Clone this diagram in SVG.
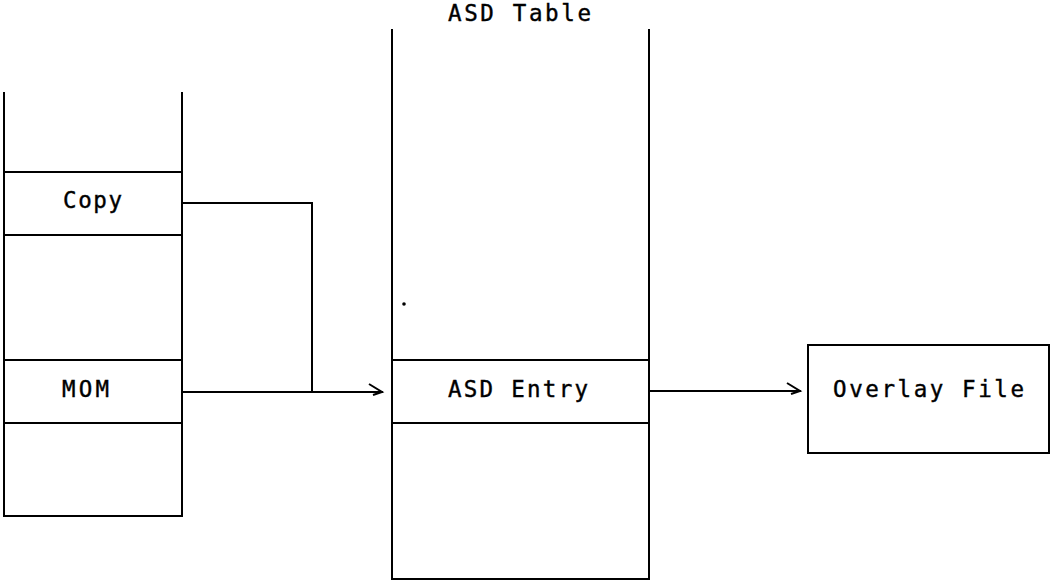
<svg xmlns="http://www.w3.org/2000/svg" width="1052" height="581" viewBox="0 0 1052 581">
<style>
.ln{stroke:#000;stroke-width:2;fill:none;stroke-linecap:square}
.t{font-family:"DejaVu Sans Mono","Liberation Mono",monospace;font-size:22.5px;fill:#000;stroke:#000;stroke-width:0.4}
</style>
<defs>
<marker id="ah" markerUnits="userSpaceOnUse" markerWidth="20" markerHeight="20" refX="14" refY="10" orient="auto" overflow="visible">
<path d="M1,2 L14,10 L5,13" fill="none" stroke="#000" stroke-width="2"/>
</marker>
</defs>
<rect width="1052" height="581" fill="#fff"/>
<g id="stack">
<path class="ln" d="M4,93 V516 H182 V93"/>
<line class="ln" x1="4" y1="172" x2="182" y2="172"/>
<line class="ln" x1="4" y1="235" x2="182" y2="235"/>
<line class="ln" x1="4" y1="360" x2="182" y2="360"/>
<line class="ln" x1="4" y1="423" x2="182" y2="423"/>
</g>
<g id="copy"><text class="t" x="63" y="208" textLength="59" lengthAdjust="spacing">Copy</text></g>
<g id="mom"><text class="t" x="62" y="397" textLength="47" lengthAdjust="spacing">MOM</text></g>
<g id="asd-table">
<text class="t" x="448" y="21" textLength="143" lengthAdjust="spacing">ASD Table</text>
<path class="ln" d="M392,30 V579 H649 V30"/>
<circle cx="404" cy="304" r="1.8" fill="#000"/>
</g>
<g id="asd-entry">
<line class="ln" x1="392" y1="360" x2="649" y2="360"/>
<line class="ln" x1="392" y1="423" x2="649" y2="423"/>
<text class="t" x="448" y="397" textLength="140" lengthAdjust="spacing">ASD Entry</text>
</g>
<g id="overlay">
<rect class="ln" x="808" y="345" width="241" height="108"/>
<text class="t" x="833" y="397" textLength="191" lengthAdjust="spacing">Overlay File</text>
</g>
<g id="connectors">
<path class="ln" d="M182,203 H312 V392"/>
<line class="ln" x1="182" y1="392" x2="382" y2="392" marker-end="url(#ah)"/>
<line class="ln" x1="649" y1="391" x2="800" y2="391" marker-end="url(#ah)"/>
</g>
</svg>
